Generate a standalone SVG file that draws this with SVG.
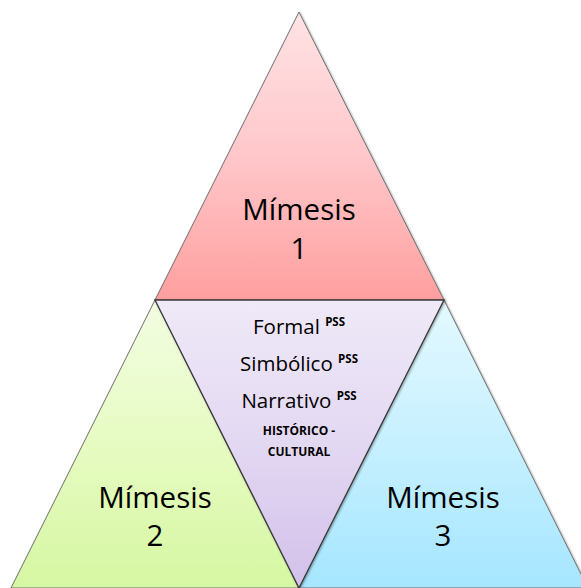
<svg xmlns="http://www.w3.org/2000/svg" width="581" height="588" viewBox="0 0 581 588">
  <style>
    .tri { stroke: #6f6f6f; stroke-width: 1; stroke-linejoin: miter; filter: url(#shadow); }
    .mid { stroke: #3a3a3a; stroke-width: 1.3; }
    .big { font-family: "Open Sans", "Liberation Sans", sans-serif; font-size: 29.5px; fill: #000; text-anchor: middle; }
    .line { font-family: "Open Sans", "Liberation Sans", sans-serif; font-size: 20.5px; fill: #000; text-anchor: middle; }
    .sup { font-size: 11.5px; font-weight: bold; }
    .caps { font-family: "Open Sans", "Liberation Sans", sans-serif; font-size: 12px; font-weight: bold; fill: #000; text-anchor: middle; }
  </style>
  <defs>
    <filter id="shadow" x="-10%" y="-10%" width="120%" height="120%">
      <feDropShadow dx="1" dy="1" stdDeviation="1" flood-color="#000" flood-opacity="0.35"/>
    </filter>
    <linearGradient id="gRed" x1="0" y1="0" x2="0" y2="1">
      <stop offset="0" stop-color="#ffe3e5"/>
      <stop offset="0.5" stop-color="#ffc7ca"/>
      <stop offset="1" stop-color="#ff9f9f"/>
    </linearGradient>
    <linearGradient id="gGreen" x1="0" y1="0" x2="0" y2="1">
      <stop offset="0" stop-color="#f3fde2"/>
      <stop offset="0.5" stop-color="#e6fbc2"/>
      <stop offset="1" stop-color="#d6f7a2"/>
    </linearGradient>
    <linearGradient id="gBlue" x1="0" y1="0" x2="0" y2="1">
      <stop offset="0" stop-color="#e4f9ff"/>
      <stop offset="0.5" stop-color="#c6f0ff"/>
      <stop offset="1" stop-color="#a5e6ff"/>
    </linearGradient>
    <linearGradient id="gViolet" x1="0" y1="0" x2="0" y2="1">
      <stop offset="0" stop-color="#efe9f8"/>
      <stop offset="0.5" stop-color="#e3d8f2"/>
      <stop offset="1" stop-color="#d2c0ea"/>
    </linearGradient>
  </defs>

  <!-- upper triangle -->
  <g id="mimesis1">
    <polygon class="tri" points="299,12 444,300 155,300" fill="url(#gRed)"/>
    <text class="big" x="299" y="220">Mímesis</text>
    <text class="big" x="299" y="259">1</text>
  </g>

  <!-- lower left triangle -->
  <g id="mimesis2">
    <polygon class="tri" points="155,300 299,588 11,588" fill="url(#gGreen)"/>
    <text class="big" x="155" y="508">Mímesis</text>
    <text class="big" x="155" y="546">2</text>
  </g>

  <!-- lower right triangle -->
  <g id="mimesis3">
    <polygon class="tri" points="444,300 588,588 299,588" fill="url(#gBlue)"/>
    <text class="big" x="443" y="508">Mímesis</text>
    <text class="big" x="443" y="546">3</text>
  </g>

  <!-- central inverted triangle -->
  <g id="centro">
    <polygon class="tri mid" points="155,300 444,300 299,588" fill="url(#gViolet)"/>
    <text class="line" x="299" y="334">Formal <tspan class="sup" dy="-8">PSS</tspan></text>
    <text class="line" x="299" y="371">Simbólico <tspan class="sup" dy="-8">PSS</tspan></text>
    <text class="line" x="299" y="408">Narrativo <tspan class="sup" dy="-8">PSS</tspan></text>
    <text class="caps" x="299" y="435">HISTÓRICO -</text>
    <text class="caps" x="299" y="456">CULTURAL</text>
  </g>

  <!-- no connectors in this figure -->
  <g id="connectors"/>
</svg>
